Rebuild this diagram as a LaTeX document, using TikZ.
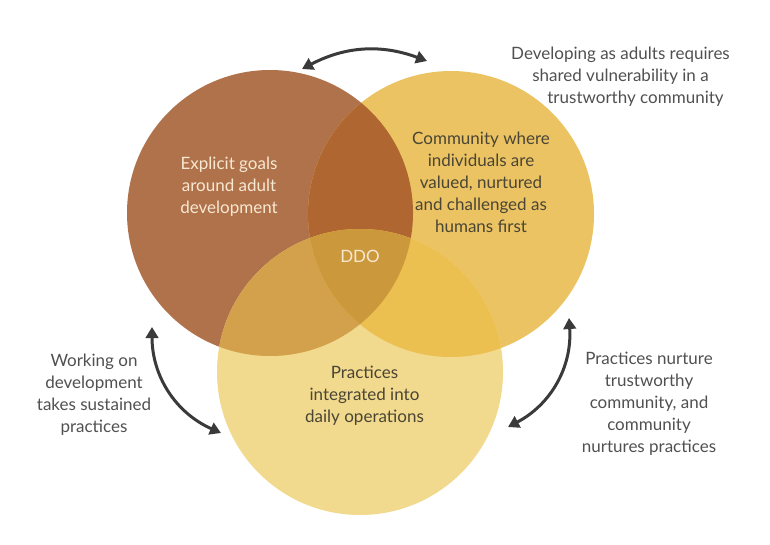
\documentclass[tikz,border=0pt]{standalone}
\usepackage{fontspec}
\setmainfont{Lato}
\usetikzlibrary{arrows.meta}
\definecolor{colL}{HTML}{B0724B}
\definecolor{colR}{HTML}{EBC362}
\definecolor{colB}{HTML}{F1D98D}
\definecolor{colLR}{HTML}{AF6630}
\definecolor{colLB}{HTML}{D3A04B}
\definecolor{colRB}{HTML}{ECC050}
\definecolor{colLRB}{HTML}{CC983C}
\definecolor{lighttext}{HTML}{F7E8D2}
\definecolor{darktext}{HTML}{4A4535}
\definecolor{greytext}{HTML}{505050}
\definecolor{arrowcol}{HTML}{3A3A3A}
\begin{document}
\begin{tikzpicture}[x=1pt,y=-1pt,
  lbl/.style={align=center,font=\fontsize{17}{22}\selectfont,inner sep=0pt},
  dblarrow/.style={draw=arrowcol,line width=3pt,{Triangle[length=11pt,width=12.5pt]}-{Triangle[length=11pt,width=12.5pt]}}]
\useasboundingbox (0,0) rectangle (770,544);
\def\rad{143}
\coordinate (cL) at (270,213);
\coordinate (cR) at (451,214);
\coordinate (cB) at (360,372);
% base circles
\fill[colL] (cL) circle (\rad);
\fill[colR] (cR) circle (\rad);
\fill[colB] (cB) circle (\rad);
% overlaps
\begin{scope}
  \clip (cL) circle (\rad);
  \fill[colLR] (cR) circle (\rad);
  \fill[colLB] (cB) circle (\rad);
\end{scope}
\begin{scope}
  \clip (cR) circle (\rad);
  \fill[colRB] (cB) circle (\rad);
\end{scope}
\begin{scope}
  \clip (cL) circle (\rad);
  \clip (cR) circle (\rad);
  \fill[colLRB] (cB) circle (\rad);
\end{scope}
% labels in circles
\node[lbl,text=lighttext] (goals) at (229,187) {Explicit goals\\around adult\\development};
\node[lbl,text=darktext] (community) at (481,182) {Community where\\individuals are\\valued, nurtured\\and challenged as\\humans first};
\node[lbl,text=lighttext] (ddo) at (360,256) {DDO};
\node[lbl,text=darktext] (practices) at (364.5,396) {Practices\\integrated into\\daily operations};
% outside labels
\node[lbl,text=greytext] (topnote) at (620.5,77) {Developing as adults requires\\shared vulnerability in a\\\hspace*{30pt}trustworthy community};
\node[lbl,text=greytext] (leftnote) at (94,395) {Working on\\development\\takes sustained\\practices};
\node[lbl,text=greytext] (rightnote) at (649,404) {Practices nurture\\trustworthy\\community, and\\community\\nurtures practices};
% arrows
\coordinate (t1) at (302,69);
\coordinate (t2) at (427,61);
\coordinate (l1) at (152,327);
\coordinate (l2) at (221,433);
\coordinate (r1) at (569,318);
\coordinate (r2) at (508,427);
\draw[dblarrow] (t1) to[bend left=24] (t2);
\draw[dblarrow] (l1) to[bend right=33] (l2);
\draw[dblarrow] (r1) to[bend left=33] (r2);
\end{tikzpicture}
\end{document}
